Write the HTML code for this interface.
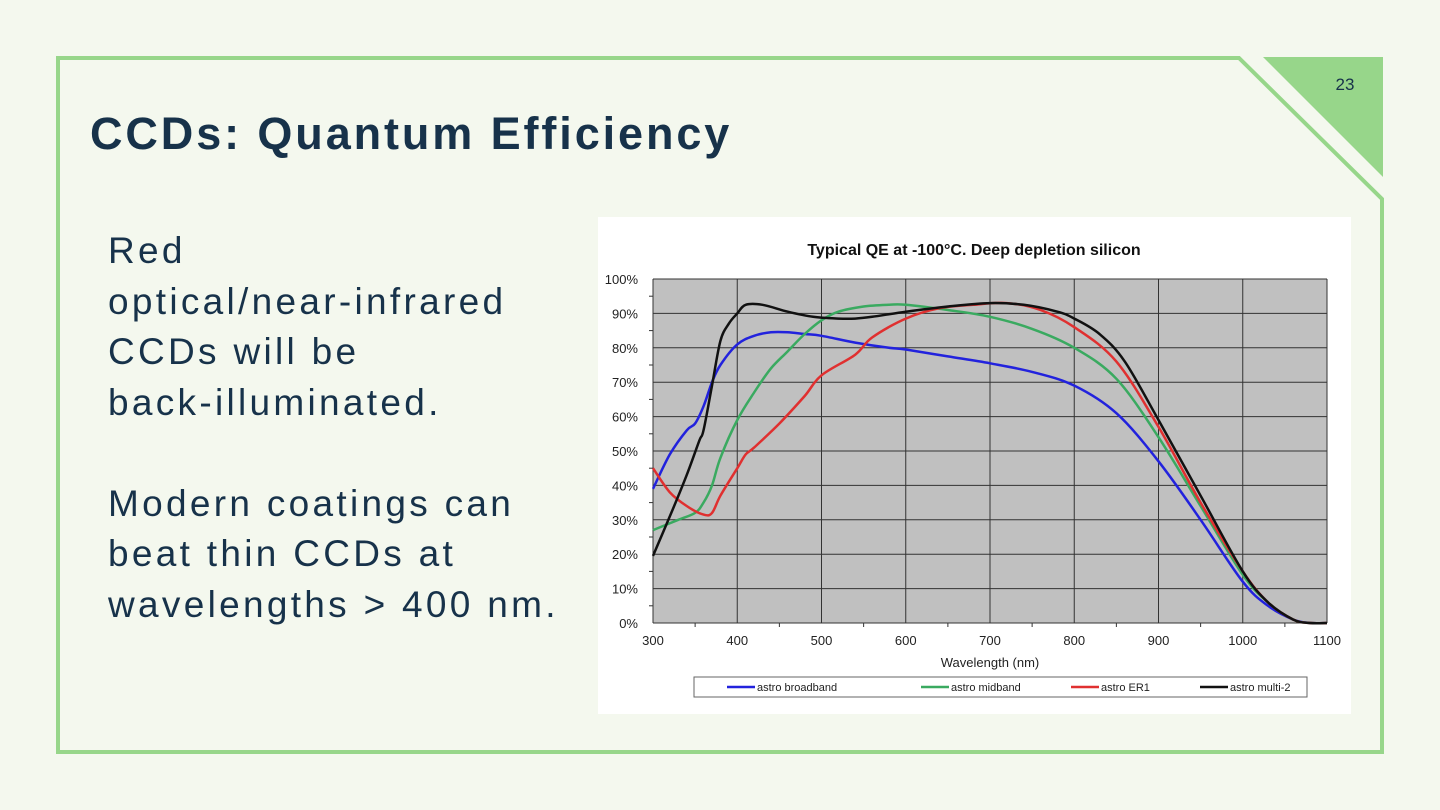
<!DOCTYPE html>
<html><head><meta charset="utf-8"><style>
body{margin:0;width:1440px;height:810px;background:#f4f8ee;overflow:hidden;font-family:"Liberation Sans",sans-serif;position:relative}
#title{position:absolute;left:90px;top:108px;font-size:45px;font-weight:bold;color:#17324a;margin:0;letter-spacing:2.9px}
#body{position:absolute;left:108px;top:226px;font-size:37px;line-height:50.5px;color:#17324a;letter-spacing:3.3px}
#chartbox{position:absolute;left:598px;top:217px;width:753px;height:497px;background:#fff}
</style></head><body>
<svg style="position:absolute;left:0;top:0" width="1440" height="810">
<path d="M58 58 H1239 L1382 199 V752 H58 Z" fill="none" stroke="#97d68a" stroke-width="4"/>
<polygon points="1263,57 1383,57 1383,177" fill="#97d68a"/>
<text x="1345" y="90" font-size="17" text-anchor="middle" fill="#17324a" font-family="Liberation Sans">23</text>
</svg>
<h1 id="title">CCDs: Quantum Efficiency</h1>
<div id="body">Red<br>optical/near-infrared<br>CCDs will be<br>back-illuminated.<br><br>Modern coatings can<br>beat thin CCDs at<br>wavelengths &gt; 400 nm.</div>
<div id="chartbox">
<svg id="chart" width="753" height="497" font-family="Liberation Sans"></svg>
</div>
<script>
const xTicks=[300,400,500,600,700,800,900,1000,1100];
const yTicks=[0,10,20,30,40,50,60,70,80,90,100];
const seriesNames=["astro broadband","astro midband","astro ER1","astro multi-2"];
const seriesColors=["#2222dd","#3aaa60","#e03030","#111111"];
const blueX=[300,320,340,350,360,370,380,400,420,440,460,480,500,540,580,600,650,700,750,800,850,900,950,1000,1030,1060,1080,1100];
const blueY=[39,49,56,58,63,70,75,81,83.5,84.5,84.5,84,83.5,81.5,80,79.5,77.5,75.5,73,69,61,47,30,12,5,1,0,0];
const greenX=[300,330,350,360,370,380,400,420,440,460,480,500,520,550,580,600,650,700,750,800,850,900,950,1000,1030,1060,1080,1100];
const greenY=[27,30,32,35,40,48,59,67,74,79,84,88,90.5,92,92.5,92.5,91,89,85.5,80,71,54,34,14,6,1,0,0];
const redX=[300,320,340,360,370,380,400,410,420,450,480,500,540,560,600,640,680,720,760,800,850,900,950,1000,1030,1060,1080,1100];
const redY=[45,38,34,31.5,32,37,45,49,51,58,66,72,78,83,88.5,91.5,92.5,93,91,86,76,57,35,15,6,1,0,0];
const blackX=[300,320,340,355,360,370,380,390,400,410,430,460,490,520,540,560,600,650,700,740,780,800,830,860,900,950,1000,1030,1060,1080,1100];
const blackY=[19.5,31,43,53,56,69,82,87,90,92.5,92.5,90.5,89,88.5,88.5,89,90.5,92,93,92.5,90.5,88.5,84,76,59,37,15,6,1,0,0];
const seriesX=[blueX,greenX,redX,blackX];
const seriesY=[blueY,greenY,redY,blackY];
const OX=598,OY=217;
const L=653-OX,R=1327-OX,T=279-OY,B=623-OY;
const sx=v=>L+(v-300)/800*(R-L);
const sy=v=>B-v/100*(B-T);
const NS="http://www.w3.org/2000/svg";
const svg=document.getElementById('chart');
function mk(t,a,p){const e=document.createElementNS(NS,t);for(const k in a)e.setAttribute(k,a[k]);(p||svg).appendChild(e);return e;}
const bg=mk('rect',{x:L,y:T,width:R-L,height:B-T,fill:'#c0c0c0'});


const t=mk('text',{x:376,y:38,'font-size':16,'font-weight':'bold','text-anchor':'middle',fill:'#111'});t.textContent='Typical QE at -100°C. Deep depletion silicon';


yTicks.forEach(v=>{
 const g=mk('line',{x1:L,x2:R,y1:sy(v),y2:sy(v),stroke:'#333','stroke-width':1});
 
 
 const lb=mk('text',{x:L-15,y:sy(v)+5,'font-size':13,'text-anchor':'end',fill:'#222'});lb.textContent=v+'%';
 
 
 if(v<100) mk('line',{x1:L-4,x2:L,y1:sy(v+5),y2:sy(v+5),stroke:'#333'});
});
xTicks.forEach((v,i)=>{
 const g=mk('line',{x1:sx(v),x2:sx(v),y1:T,y2:B,stroke:'#333','stroke-width':1});
 
 
 const lb=mk('text',{x:sx(v),y:B+22,'font-size':13,'text-anchor':'middle',fill:'#222'});lb.textContent=v;
 
 
 if(i<xTicks.length-1) mk('line',{x1:sx(v+50),x2:sx(v+50),y1:B,y2:B+4,stroke:'#333'});
});
const xt=mk('text',{x:(L+R)/2,y:B+44,'font-size':13,'text-anchor':'middle',fill:'#222'});xt.textContent='Wavelength (nm)';


function smooth(pts){
 let d='M'+pts[0][0].toFixed(1)+' '+pts[0][1].toFixed(1);
 for(let i=0;i<pts.length-1;i++){
  const p0=pts[Math.max(0,i-1)],p1=pts[i],p2=pts[i+1],p3=pts[Math.min(pts.length-1,i+2)];
  const c1=[p1[0]+(p2[0]-p0[0])/6,p1[1]+(p2[1]-p0[1])/6];
  const c2=[p2[0]-(p3[0]-p1[0])/6,p2[1]-(p3[1]-p1[1])/6];
  d+=' C'+c1.map(n=>n.toFixed(1)).join(' ')+' '+c2.map(n=>n.toFixed(1)).join(' ')+' '+p2[0].toFixed(1)+' '+p2[1].toFixed(1);
 }
 return d;
}
seriesX.forEach((xs,s)=>{
 const pts=xs.map((x,i)=>[sx(x),sy(seriesY[s][i])]);
 const p=mk('path',{d:smooth(pts),fill:'none',stroke:seriesColors[s],'stroke-width':2.5,'stroke-linejoin':'round'});
 
 
});
const lg=mk('rect',{x:694-OX,y:677-OY,width:613,height:20,fill:'#fff',stroke:'#666'});


const lgX=[727,921,1071,1200];
seriesNames.forEach((n,i)=>{
 const x=lgX[i]-OX,y=687-OY;
 mk('line',{x1:x,x2:x+28,y1:y,y2:y,stroke:seriesColors[i],'stroke-width':2.5});
 const tx=mk('text',{x:x+30,y:y+4,'font-size':11,fill:'#222'});tx.textContent=n;
 
 
});
</script>
</body></html>
